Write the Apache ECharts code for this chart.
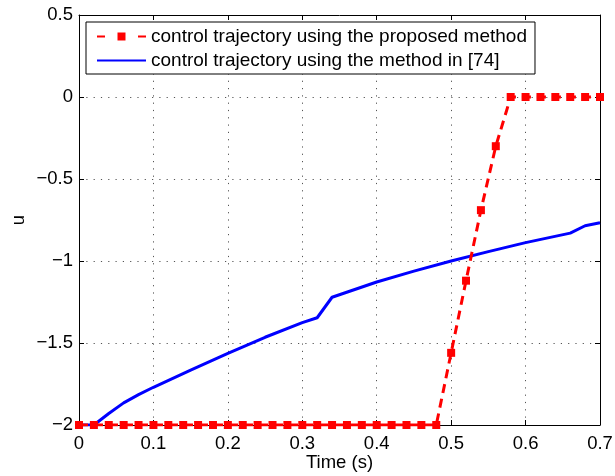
<!DOCTYPE html>
<html>
<head>
<meta charset="utf-8">
<script src="https://cdn.jsdelivr.net/npm/echarts@6/dist/echarts.min.js"></script>
<style>
html,body{margin:0;padding:0;background:#fff;}
#c{width:615px;height:476px;}
</style>
</head>
<body>
<div id="c"></div>
<script>
// Data
const redT = [0,0.02,0.04,0.06,0.08,0.10,0.12,0.14,0.16,0.18,0.20,0.22,0.24,0.26,0.28,0.30,0.32,0.34,0.36,0.38,0.40,0.42,0.44,0.46,0.48,0.50,0.52,0.54,0.56,0.58,0.60,0.62,0.64,0.66,0.68,0.70];
const redU = [-2,-2,-2,-2,-2,-2,-2,-2,-2,-2,-2,-2,-2,-2,-2,-2,-2,-2,-2,-2,-2,-2,-2,-2,-2,-1.56,-1.12,-0.69,-0.30,0,0,0,0,0,0,0];
const blueT = [0,0.02,0.04,0.06,0.08,0.10,0.15,0.20,0.25,0.30,0.32,0.34,0.40,0.45,0.50,0.55,0.60,0.66,0.68,0.70];
const blueU = [-2,-2,-1.93,-1.865,-1.815,-1.77,-1.665,-1.563,-1.465,-1.376,-1.346,-1.221,-1.128,-1.062,-1.0,-0.943,-0.888,-0.83,-0.785,-0.767];
const seriesNames = ['control trajectory using the proposed method','control trajectory using the method in [74]'];
const xTickLabels = ['0','0.1','0.2','0.3','0.4','0.5','0.6','0.7'];
const yTickLabels = ['\u22122','\u22121.5','\u22121','\u22120.5','0','0.5'];
const xName = 'Time (s)';
const yName = 'u';

const FONT = 'Liberation Sans';
const FS = 18.5;
const redData = redT.map((t,i)=>[t, redU[i]]);
const blueData = blueT.map((t,i)=>[t, blueU[i]]);

const chart = echarts.init(document.getElementById('c'), null, {renderer:'canvas'});
const gridLine = {show:true, lineStyle:{color:'#555', width:1, type:[1.2,6.1]}};
const tick = {show:true, inside:true, length:5, lineStyle:{color:'#000', width:1}};
const axLine = {show:true, onZero:false, lineStyle:{color:'#000', width:1}};

chart.setOption({
  animation:false,
  backgroundColor:'#fff',
  textStyle:{fontFamily:FONT},
  grid:{left:79, right:15, top:15, bottom:51, containLabel:false, outerBoundsMode:'none'},
  legend:{
    orient:'vertical', left:86, top:22,
    data:[
      {name:seriesNames[0], lineStyle:{type:[8,33]}},
      {name:seriesNames[1], itemStyle:{opacity:0}}
    ],
    backgroundColor:'#fff', borderColor:'#000', borderWidth:1, borderRadius:0,
    padding:[5,8,4,10], itemWidth:49, itemHeight:10, itemGap:5,
    textStyle:{fontFamily:FONT, fontSize:19, lineHeight:19, color:'#000'}
  },
  xAxis:[{
    type:'value', min:0, max:0.7, interval:0.1, position:'bottom',
    name:xName, nameLocation:'middle', nameGap:28, nameMoveOverlap:false,
    nameTextStyle:{fontFamily:FONT, fontSize:FS, color:'#000'},
    axisLine:axLine, axisTick:tick, splitLine:gridLine,
    axisLabel:{fontFamily:FONT, fontSize:FS, color:'#000', margin:9,
      formatter:(v)=>xTickLabels[Math.round(v*10)]}
  },{
    type:'value', min:0, max:0.7, interval:0.1, position:'top',
    axisLine:axLine, axisTick:tick, splitLine:{show:false}, axisLabel:{show:false}
  }],
  yAxis:[{
    type:'value', min:-2, max:0.5, interval:0.5, position:'left',
    name:yName, nameLocation:'middle', nameGap:51, nameRotate:90, nameMoveOverlap:false,
    nameTextStyle:{fontFamily:FONT, fontSize:FS, color:'#000'},
    axisLine:axLine, axisTick:tick, splitLine:gridLine,
    axisLabel:{fontFamily:FONT, fontSize:FS, color:'#000', margin:6,
      formatter:(v)=>yTickLabels[Math.round((v+2)*2)]}
  },{
    type:'value', min:-2, max:0.5, interval:0.5, position:'right',
    axisLine:axLine, axisTick:tick, splitLine:{show:false}, axisLabel:{show:false}
  }],
  series:[{
    name:seriesNames[0], type:'line', data:redData,
    symbol:'rect', symbolSize:8, showSymbol:true,
    itemStyle:{color:'#ff0000'},
    lineStyle:{color:'#ff0000', width:3, type:[9,6]},
    z:3
  },{
    name:seriesNames[1], type:'line', data:blueData,
    symbol:'none', showSymbol:false,
    itemStyle:{color:'#0000ff'},
    lineStyle:{color:'#0000ff', width:3},
    z:2
  }]
});
</script>
</body>
</html>
